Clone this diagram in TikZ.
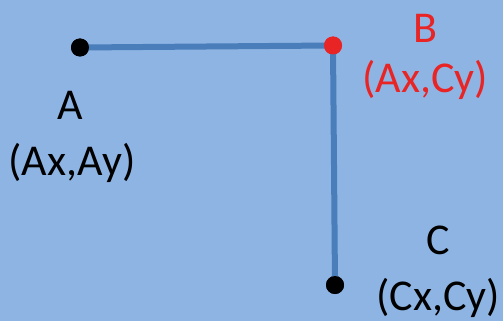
\documentclass[tikz,border=0pt]{standalone}
\usepackage{fontspec}
\setmainfont{Carlito}
\definecolor{bg}{HTML}{8EB4E3}
\definecolor{ln}{HTML}{4A7EBB}
\definecolor{rd}{HTML}{E82424}
\begin{document}
\begin{tikzpicture}[x=1pt,y=-1pt,
  dot/.style={circle,fill=#1,inner sep=0pt,minimum size=18pt},
  lbl/.style={font=\fontsize{44}{52}\selectfont,inner sep=0pt},
  seg/.style={draw=ln,line width=6pt}]
\fill[bg] (0,0) rectangle (503,321);
\useasboundingbox (0,0) rectangle (503,321);
\node[dot=black] (A) at (80,47.5) {};
\node[dot=rd] (B) at (333,45.5) {};
\node[dot=black] (C) at (335,285) {};
\draw[seg] (A.center) -- (B.center) -- (C.center);
\node[dot=black] at (A) {};
\node[dot=rd] at (B) {};
\node[dot=black] at (C) {};
\node[lbl] (la) at (70,105) {A};
\node[lbl] (lac) at (72,163) {(Ax,Ay)};
\node[lbl,text=rd] (lb) at (425,28) {B};
\node[lbl,text=rd] (lbc) at (425,80) {(Ax,Cy)};
\node[lbl] (lc) at (438,240) {C};
\node[lbl] (lcc) at (438,298) {(Cx,Cy)};
\end{tikzpicture}
\end{document}
